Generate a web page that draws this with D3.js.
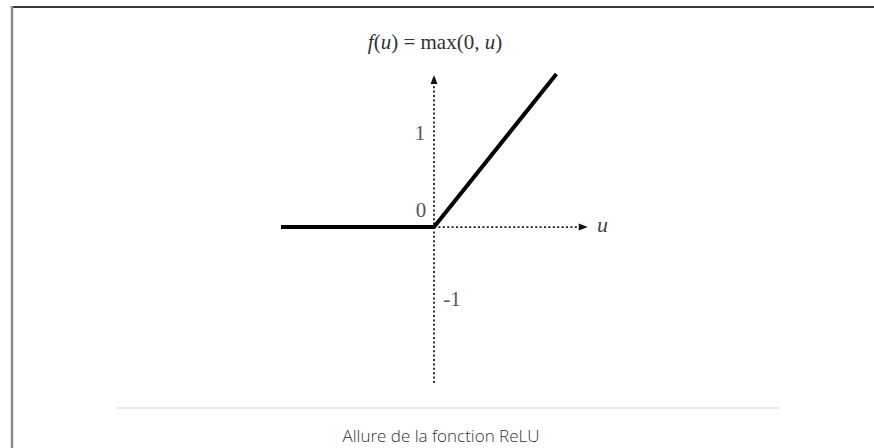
<!DOCTYPE html>
<html><head><meta charset="utf-8">
<script src="https://cdn.jsdelivr.net/npm/d3@7"></script>
<style>html,body{margin:0;padding:0;background:#fff;overflow:hidden}</style>
</head><body>
<script>
// Data
const uValues = [-2, 0, 1.6];
const reluValues = [0, 0, 1.6];
const yTickValues = [1, 0, -1];
const yTickLabels = ["1", "0", "-1"];
const titleParts = [["f", true], ["(", false], ["u", true], [") = max(0, ", false], ["u", true], [")", false]];
const axisLabel = "u";
const caption = "Allure de la fonction ReLU";

const W = 874, H = 448;
const svg = d3.select("body").append("svg").attr("width", W).attr("height", H);

const x = d3.scaleLinear().domain([-2, 2]).range([281, 587]);
const y = d3.scaleLinear().domain([-1.63, 1.6]).range([383, 74]);

// frame
svg.append("line").attr("x1", 11).attr("x2", W).attr("y1", 7).attr("y2", 7).attr("stroke", "#3a3a3a").attr("stroke-width", 2);
svg.append("line").attr("x1", 12).attr("x2", 12).attr("y1", 6).attr("y2", H).attr("stroke", "#8a8a8a").attr("stroke-width", 2.5);

// separator
svg.append("line").attr("x1", 117).attr("x2", 780).attr("y1", 408).attr("y2", 408).attr("stroke", "#ececec").attr("stroke-width", 2);

// axes (dotted)
const axisCol = "#1a1a1a";
svg.append("line").attr("x1", x(0)).attr("x2", x(0)).attr("y1", y(-1.63)).attr("y2", y(1.55))
  .attr("stroke", axisCol).attr("stroke-width", 1.8).attr("stroke-dasharray", "2,2.4");
svg.append("line").attr("x1", x(0)).attr("x2", x(1.94)).attr("y1", y(0)).attr("y2", y(0))
  .attr("stroke", axisCol).attr("stroke-width", 1.8).attr("stroke-dasharray", "2,2.4");
// arrowheads
const ax = x(0), ayTop = y(1.59);
svg.append("path").attr("d", `M${ax},${ayTop} L${ax-3.5},${ayTop+9} L${ax+3.5},${ayTop+9} Z`).attr("fill", "#111");
const axR = x(2.01), ay0 = y(0);
svg.append("path").attr("d", `M${axR},${ay0} L${axR-9},${ay0-3.5} L${axR-9},${ay0+3.5} Z`).attr("fill", "#111");

// ReLU line
const line = d3.line().x((d, i) => x(uValues[i])).y((d, i) => y(reluValues[i]));
svg.append("path").datum(uValues).attr("d", line).attr("fill", "none").attr("stroke", "#000")
  .attr("stroke-width", 4).attr("stroke-linejoin", "miter");

// tick labels
const serif = "'Liberation Serif', 'DejaVu Serif', serif";
const tickPos = {"1": [-14, 9], "0": [-13, -10], "-1": [18, -17]};
svg.selectAll("text.tick").data(yTickValues).enter().append("text")
  .attr("class", "tick")
  .attr("x", (d, i) => x(0) + tickPos[yTickLabels[i]][0])
  .attr("y", (d, i) => y(d) + tickPos[yTickLabels[i]][1])
  .attr("text-anchor", "middle")
  .attr("font-family", serif).attr("font-size", 21).attr("fill", "#555")
  .text((d, i) => yTickLabels[i]);

// axis label u
svg.append("text").attr("x", x(2) + 10).attr("y", y(0) + 5)
  .attr("font-family", serif).attr("font-style", "italic").attr("font-size", 22).attr("fill", "#444")
  .text(axisLabel);

// title
const t = svg.append("text").attr("x", 435).attr("y", 49).attr("text-anchor", "middle")
  .attr("font-family", serif).attr("font-size", 21).attr("fill", "#333");
titleParts.forEach(([s, it]) => t.append("tspan").attr("font-style", it ? "italic" : "normal").text(s));

// caption
svg.append("text").attr("x", 441).attr("y", 442).attr("text-anchor", "middle")
  .attr("font-family", "'Open Sans', Lato, sans-serif").attr("font-weight", 300).attr("font-size", 17).attr("fill", "#333")
  .text(caption);
</script>
</body></html>
